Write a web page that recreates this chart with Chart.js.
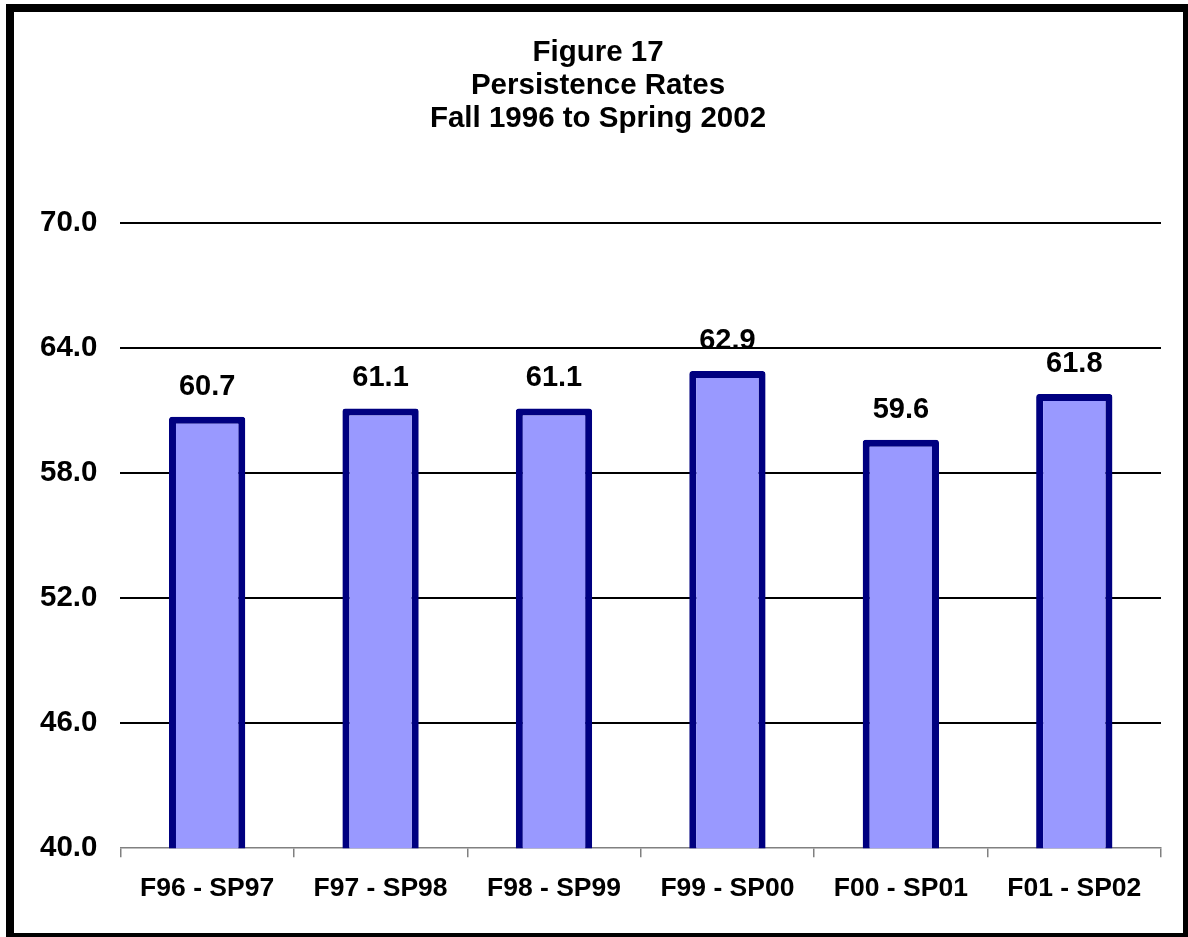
<!DOCTYPE html>
<html>
<head>
<meta charset="utf-8">
<script src="https://cdn.jsdelivr.net/npm/chart.js@4/dist/chart.umd.min.js"></script>
<style>
  html, body { margin: 0; padding: 0; background: #fff; overflow: hidden; }
  #wrap { position: absolute; left: 0; top: 0; width: 1188px; height: 937px; }
  #frame {
    position: absolute; left: 6px; top: 4px; right: -3px; bottom: -4px;
    border: 8px solid #000; box-sizing: border-box; pointer-events: none;
  }
</style>
</head>
<body>
<div id="wrap">
  <canvas id="myChart" width="1188" height="937"></canvas>
  <div id="frame"></div>
</div>
<script>
// data
const terms = ["F96 - SP97", "F97 - SP98", "F98 - SP99", "F99 - SP00", "F00 - SP01", "F01 - SP02"];
const rates = [60.7, 61.1, 61.1, 62.9, 59.6, 61.8];
const titleLines = ["Figure 17", "Persistence Rates", "Fall 1996 to Spring 2002"];
const yMin = 40, yMax = 70, yStep = 6;

const FONT = '"Liberation Sans", Arial, sans-serif';

// value labels above each bar (no datalabels plugin available offline)
const barValues = {
  id: 'barValues',
  afterDatasetsDraw(chart) {
    const { ctx } = chart;
    const meta = chart.getDatasetMeta(0);
    ctx.save();
    ctx.font = 'bold 29px ' + FONT;
    ctx.fillStyle = '#000';
    ctx.textAlign = 'center';
    ctx.textBaseline = 'alphabetic';
    meta.data.forEach((bar, i) => {
      ctx.fillText(rates[i].toFixed(1), bar.x, bar.y - 22);
    });
    ctx.restore();
  }
};

// title drawn by hand: in the original it sits a bit right of the canvas centre
const titleBlock = {
  id: 'titleBlock',
  afterDraw(chart) {
    const { ctx } = chart;
    const lh = 33;
    ctx.save();
    ctx.font = 'bold 29.5px ' + FONT;
    ctx.fillStyle = '#000';
    ctx.textAlign = 'center';
    ctx.textBaseline = 'middle';
    titleLines.forEach((line, i) => {
      ctx.fillText(line, 598, 36 + lh / 2 + i * lh);
    });
    ctx.restore();
  }
};

const ctx = document.getElementById("myChart");

const myChart = new Chart(ctx, {
  type: "bar",
  plugins: [barValues, titleBlock],
  data: {
    labels: terms,
    datasets: [
      {
        label: "Persistence Rate",
        data: rates,
        backgroundColor: "#9999FF",
        borderColor: "#000080",
        borderWidth: 7,
        borderRadius: 3,
        borderSkipped: false,
        barPercentage: 0.44,
        categoryPercentage: 1,
      },
    ],
  },
  options: {
    responsive: false,
    animation: false,
    layout: {
      padding: { left: 17, right: 27, top: 223, bottom: 16 },
    },
    plugins: {
      legend: { display: false },
      tooltip: { enabled: false },
      title: { display: false },
    },
    scales: {
      y: {
        min: yMin,
        max: yMax,
        border: { display: false },
        grid: {
          color: (c) => (c.tick && c.tick.value === yMin ? 'rgba(0,0,0,0)' : '#000'),
          lineWidth: 2,
          drawTicks: false,
        },
        ticks: {
          stepSize: yStep,
          padding: 23,
          color: '#000',
          font: { family: FONT, size: 29.5, weight: 'bold' },
          callback: (v) => Number(v).toFixed(1),
        },
      },
      x: {
        border: { display: true, color: '#808080', width: 1.5 },
        grid: {
          offset: true,
          drawOnChartArea: false,
          color: '#808080',
          tickLength: 9,
          lineWidth: 1.5,
        },
        ticks: {
          padding: 16,
          color: '#000',
          font: { family: FONT, size: 26.5, weight: 'bold' },
          maxRotation: 0,
          autoSkip: false,
        },
      },
    },
  },
});
</script>
</body>
</html>
